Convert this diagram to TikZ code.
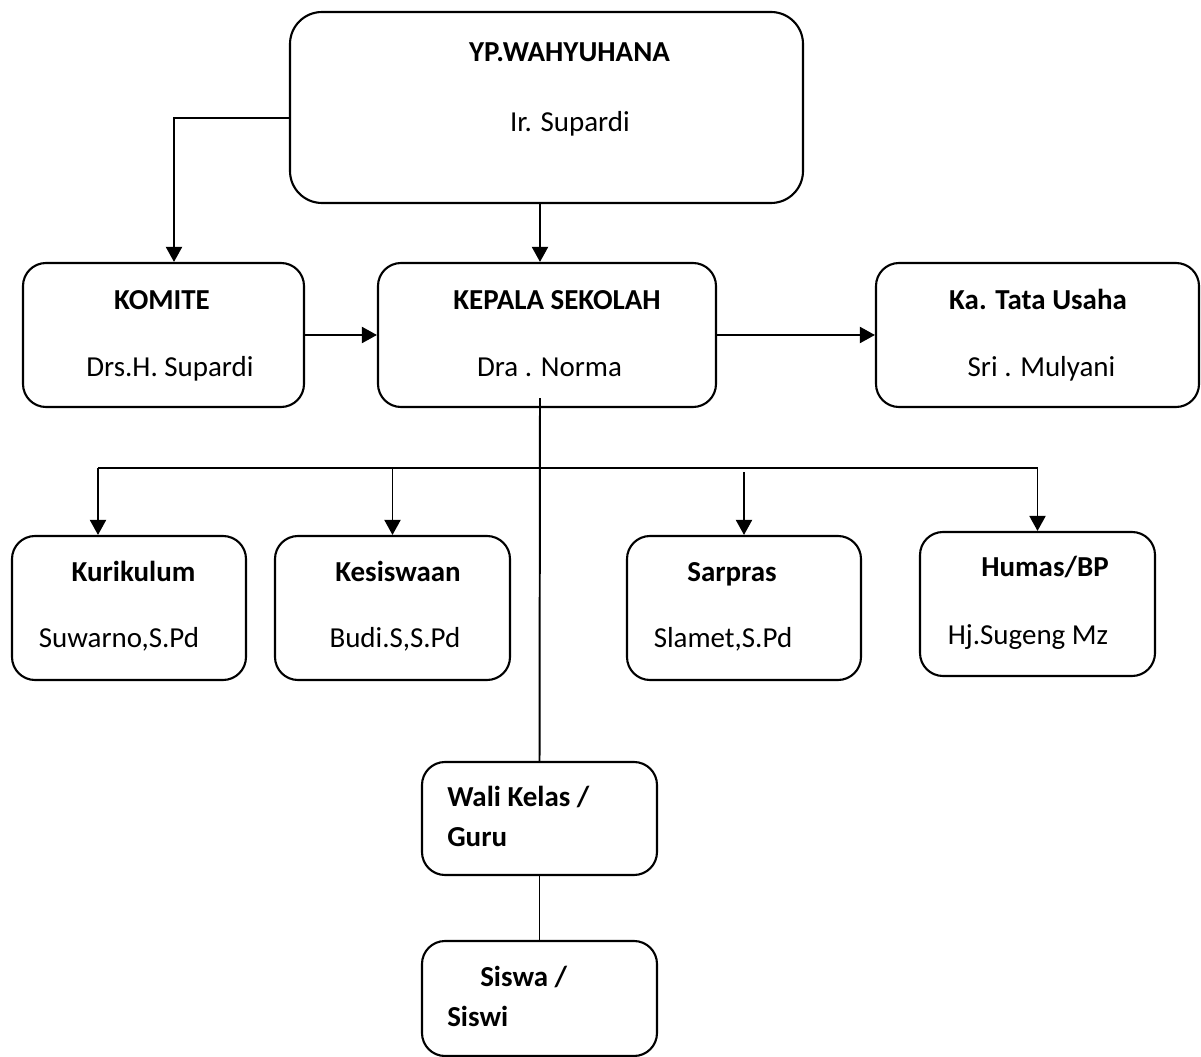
\documentclass[tikz,border=0pt]{standalone}
\usepackage{fontspec}
\setmainfont{Carlito}
\usetikzlibrary{arrows.meta}

\begin{document}
\begin{tikzpicture}[
  box/.style={rectangle,draw,line width=1.5pt,rounded corners=0.575cm,inner sep=0pt},
  txt/.style={inner sep=0pt,text height=0.47cm,text depth=0pt,font=\fontsize{20.6pt}{24pt}\selectfont},
  head/.style={txt,font=\fontsize{20.6pt}{24pt}\selectfont\bfseries},
  arr/.style={line width=1.4pt,-{Triangle[length=0.375cm,width=0.4cm]}},
  link/.style={line width=1.4pt}]
\useasboundingbox (0,0) rectangle (30.025,-26.425);

% Yayasan
\node[box,rounded corners=0.8cm,minimum width=12.825cm,minimum height=4.775cm] (yp) at (13.6625,-2.6875) {};
\node[head] (ypT) at (14.2375,-1.3) {YP.WAHYUHANA};
\node[txt] (ypN) at (14.25,-3.05) {Ir. Supardi};

% Komite, kepala sekolah, tata usaha
\node[box,minimum width=7.025cm,minimum height=3.6cm] (komite) at (4.0875,-8.375) {};
\node[head] (komiteT) at (4.05,-7.5) {KOMITE};
\node[txt] (komiteN) at (4.25,-9.175) {Drs.H. Supardi};
\node[box,minimum width=8.45cm,minimum height=3.6cm] (kepala) at (13.675,-8.375) {};
\node[head] (kepalaT) at (13.925,-7.5) {KEPALA SEKOLAH};
\node[txt] (kepalaN) at (13.7375,-9.175) {Dra . Norma};
\node[box,minimum width=8.075cm,minimum height=3.6cm] (katu) at (25.9375,-8.375) {};
\node[head] (katuT) at (25.95,-7.5) {Ka. Tata Usaha};
\node[txt] (katuN) at (26.0375,-9.175) {Sri . Mulyani};

% Wakil kepala
\node[box,minimum width=5.85cm,minimum height=3.6cm] (kurikulum) at (3.225,-15.2) {};
\node[head] (kurikulumT) at (3.3375,-14.3) {Kurikulum};
\node[txt] (kurikulumN) at (2.975,-15.95) {Suwarno,S.Pd};
\node[box,minimum width=5.875cm,minimum height=3.6cm] (kesiswaan) at (9.8125,-15.2) {};
\node[head] (kesiswaanT) at (9.95,-14.3) {Kesiswaan};
\node[txt] (kesiswaanN) at (9.875,-15.95) {Budi.S,S.Pd};
\node[box,minimum width=5.85cm,minimum height=3.6cm] (sarpras) at (18.6,-15.2) {};
\node[head] (sarprasT) at (18.3,-14.3) {Sarpras};
\node[txt] (sarprasN) at (18.075,-15.95) {Slamet,S.Pd};
\node[box,minimum width=5.875cm,minimum height=3.6cm] (humas) at (25.9375,-15.1) {};
\node[head] (humasT) at (26.125,-14.175) {Humas/BP};
\node[txt] (humasN) at (25.7,-15.875) {Hj.Sugeng Mz};

% Guru dan siswa
\node[box,minimum width=5.875cm,minimum height=2.825cm] (wali) at (13.4875,-20.4625) {};
\node[head,anchor=west] (waliT) at (11.175,-19.925) {Wali Kelas /};
\node[head,anchor=west] (waliN) at (11.175,-20.925) {Guru};
\node[box,minimum width=5.875cm,minimum height=2.875cm] (siswa) at (13.4875,-24.9625) {};
\node[head,anchor=west] (siswaT) at (12.0,-24.425) {Siswa /};
\node[head,anchor=west] (siswaN) at (11.175,-25.425) {Siswi};

% Garis
\draw[arr] ([yshift=-0.2625cm]yp.west) -| ([xshift=0.2625cm]komite.north);
\draw[arr] ([xshift=-0.1625cm]yp.south) -- ([xshift=-0.175cm]kepala.north);
\draw[arr] (komite.east) -- (kepala.west);
\draw[arr] (kepala.east) -- (katu.west);
\draw[link] ([xshift=-0.175cm,yshift=0.25cm]kepala.south) -- (wali.north);
\draw[link] (wali.south) -- (siswa.north);

\coordinate (bus) at (2.45,-11.7);
\draw[arr] (bus) -| (humas.north);
\draw[arr] (bus) -- (bus |- kurikulum.north);
\draw[arr] (bus -| kesiswaan.north) -- (kesiswaan.north);
\draw[arr] ([yshift=-0.1cm]bus -| sarpras.north) -- (sarpras.north);
\end{tikzpicture}
\end{document}
